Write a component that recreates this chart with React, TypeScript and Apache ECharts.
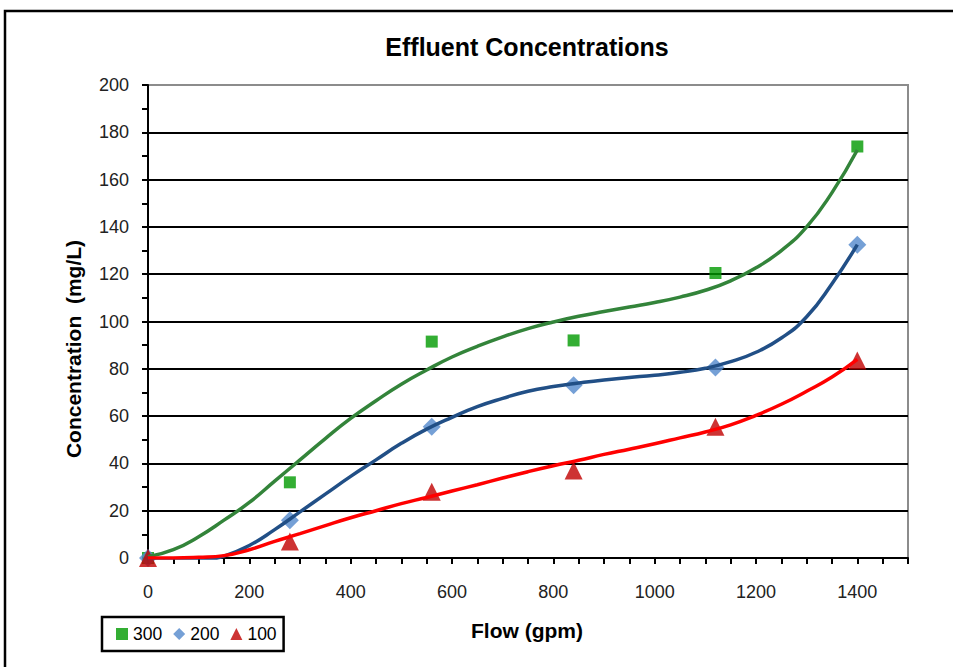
import React, { useEffect, useRef } from "react";
import * as echarts from "echarts";

// Measured data points
const flows = [0, 280, 560, 840, 1120, 1400];
const conc300 = [0, 32, 91.5, 92, 120.5, 174];
const conc200 = [0, 16, 55.5, 73, 80.5, 132.5];
const conc100 = [0, 7, 28, 37, 55.5, 83.5];

const trendX = [0, 50, 100, 150, 200, 250, 300, 350, 400, 450, 500, 550, 600, 650, 700, 750, 800, 850, 900, 950, 1000, 1050, 1100, 1150, 1200, 1250, 1300, 1350, 1400];
const trend300Y = [0.5, 3.5, 9, 16, 23.5, 32.5, 41.5, 50.5, 59, 66.5, 73.5, 79.5, 85, 89.5, 93.5, 97, 99.8, 102.2, 104.2, 106.1, 108, 110.3, 113.2, 117.2, 122.7, 130, 140, 154.5, 172.5];
const trend200Y = [0, -1, -1, 0.8, 5.3, 12, 19.5, 27, 34.5, 41.5, 48.5, 54.5, 59.5, 64, 67.5, 70.5, 72.5, 74, 75.3, 76.3, 77.3, 78.5, 80.2, 83, 87, 93, 102, 116, 132.5];
const trend100Y = [0, 0, 0.3, 1, 3.5, 7, 10.3, 13.7, 17, 20, 23, 25.6, 28.3, 31, 33.8, 36.5, 39, 41.3, 43.8, 46, 48.3, 50.8, 53.3, 56.3, 60.3, 65, 70.5, 76.5, 84];

const xTickLabels = [0, 200, 400, 600, 800, 1000, 1200, 1400];
const yTickLabels = [0, 20, 40, 60, 80, 100, 120, 140, 160, 180, 200];

const seriesNames = ["300", "200", "100"];

const FONT = "'Liberation Sans', Arial, Helvetica, sans-serif";

const pairs = (xs: number[], ys: number[]) => xs.map((x, i) => [x, ys[i]]);

export default function App() {
  const ref = useRef<HTMLDivElement>(null);

  useEffect(() => {
    if (!ref.current) return;
    const chart = echarts.init(ref.current, undefined, { renderer: "svg" });

    const gridColors = yTickLabels.map((v, i) => (i === yTickLabels.length - 1 ? "#8c8c8c" : "#000000"));

    const option: any = {
      animation: false,
      backgroundColor: "#ffffff",
      textStyle: { fontFamily: FONT },
      grid: {
        left: 148,
        right: 45,
        top: 85,
        bottom: 109,
        show: true,
        borderColor: "#8c8c8c",
        borderWidth: 2,
        backgroundColor: "transparent",
      },
      legend: {
        data: seriesNames,
        orient: "horizontal",
        left: 102,
        top: 617,
        borderColor: "#000",
        borderWidth: 2.5,
        padding: [8, 7, 8, 14],
        itemWidth: 12,
        itemHeight: 12,
        itemGap: 11,
        textStyle: { fontSize: 17.5, color: "#000", fontFamily: FONT },
      },
      xAxis: {
        type: "value",
        min: 0,
        max: 1500,
        interval: 50,
        axisLine: { show: true, lineStyle: { color: "#000", width: 2 } },
        axisTick: { show: true, inside: false, length: 6, lineStyle: { color: "#000", width: 2 } },
        axisLabel: {
          margin: 25,
          fontSize: 18,
          color: "#222",
          fontFamily: FONT,
          formatter: (v: number) => (xTickLabels.includes(v) ? String(v) : ""),
        },
        splitLine: { show: false },
      },
      yAxis: {
        type: "value",
        min: 0,
        max: 200,
        interval: 20,
        axisLine: { show: true, lineStyle: { color: "#000", width: 2 } },
        axisTick: { show: true, inside: false, length: 6, lineStyle: { color: "#000", width: 2 } },
        minorTick: { show: true, splitNumber: 2, length: 6, lineStyle: { color: "#000", width: 2 } },
        axisLabel: {
          margin: 19,
          fontSize: 18,
          color: "#222",
          fontFamily: FONT,
          formatter: (v: number) => (yTickLabels.includes(v) ? String(v) : ""),
        },
        splitLine: { show: true, lineStyle: { color: gridColors, width: 2 } },
      },
      graphic: [
        {
          type: "rect",
          shape: { x: 5, y: 11, width: 1000, height: 700 },
          style: { fill: "none", stroke: "#000", lineWidth: 2.5 },
          silent: true,
        },
        {
          type: "text",
          x: 527,
          y: 47,
          style: {
            text: "Effluent Concentrations",
            fontSize: 25,
            fontWeight: "bold",
            fontFamily: FONT,
            fill: "#000",
            align: "center",
            verticalAlign: "middle",
            textAlign: "center",
            textVerticalAlign: "middle",
          },
        },
        {
          type: "text",
          x: 73,
          y: 349,
          rotation: Math.PI / 2,
          style: {
            text: "Concentration  (mg/L)",
            fontSize: 21,
            fontWeight: "bold",
            fontFamily: FONT,
            fill: "#000",
            align: "center",
            verticalAlign: "middle",
            textAlign: "center",
            textVerticalAlign: "middle",
          },
        },
        {
          type: "text",
          x: 527,
          y: 630,
          style: {
            text: "Flow (gpm)",
            fontSize: 21,
            fontWeight: "bold",
            fontFamily: FONT,
            fill: "#000",
            align: "center",
            verticalAlign: "middle",
            textAlign: "center",
            textVerticalAlign: "middle",
          },
        },
      ],
      series: [
        {
          name: "300",
          type: "scatter",
          symbol: "rect",
          symbolSize: 12,
          clip: false,
          itemStyle: { color: "#009a00" },
          data: pairs(flows, conc300),
          z: 2,
        },
        {
          name: "200",
          type: "scatter",
          symbol: "diamond",
          symbolSize: 18,
          clip: false,
          itemStyle: { color: "#5288cc" },
          data: pairs(flows, conc200),
          z: 2,
        },
        {
          name: "100",
          type: "scatter",
          symbol: "triangle",
          symbolSize: 18,
          clip: false,
          itemStyle: { color: "#c00000" },
          data: pairs(flows, conc100),
          z: 2,
        },
        {
          name: "trend300",
          type: "line",
          smooth: 0.5,
          symbol: "none",
          lineStyle: { color: "#33843a", width: 3.5 },
          data: pairs(trendX, trend300Y),
          z: 3,
        },
        {
          name: "trend200",
          type: "line",
          smooth: 0.5,
          symbol: "none",
          lineStyle: { color: "#214f86", width: 3.5 },
          data: pairs(trendX, trend200Y),
          z: 3,
        },
        {
          name: "trend100",
          type: "line",
          smooth: 0.5,
          symbol: "none",
          lineStyle: { color: "#ff0000", width: 3.5 },
          data: pairs(trendX, trend100Y),
          z: 3,
        },
      ],
    };

    chart.setOption(option);
    return () => chart.dispose();
  }, []);

  return (
    <div
      ref={ref}
      style={{ position: "fixed", left: 0, top: 0, width: 953, height: 667, background: "#fff" }}
    />
  );
}
